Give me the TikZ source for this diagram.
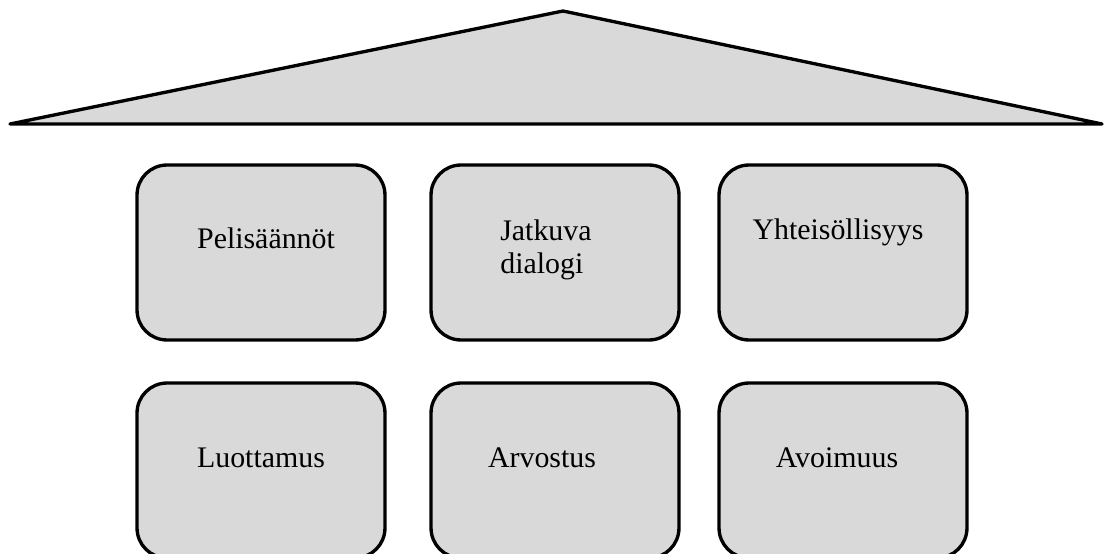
\documentclass[tikz,border=0pt]{standalone}
\usepackage{fontspec}
\setmainfont{Liberation Serif}
\usetikzlibrary{positioning}
\definecolor{roofgray}{HTML}{D9D9D9}
\tikzset{
  pillar/.style={draw=black,line width=1.9pt,fill=roofgray,rounded corners=0.6cm,minimum width=4.96cm,minimum height=3.5cm,inner sep=0pt},
  word/.style={font=\fontsize{17}{18.7}\selectfont,inner sep=0pt}
}
\begin{document}
\begin{tikzpicture}[x=0.02cm,y=-0.02cm]
\pgfmathsetmacro{\rowa}{252.5}
\pgfmathsetmacro{\rowb}{470.5}
\useasboundingbox (0,0) rectangle (1112,554);
% roof
\draw[line width=1.9pt,line join=round,fill=roofgray] (10,124) -- (563,11) -- (1102,124) -- cycle;
% upper row
\node[pillar] (pel) at (261,\rowa) {};
\node[pillar] (jat) at (555,\rowa) {};
\node[pillar] (yht) at (843,\rowa) {};
% lower row
\node[pillar] (luo) at (261,\rowb) {};
\node[pillar] (arv) at (555,\rowb) {};
\node[pillar] (avo) at (843,\rowb) {};
\node[word] (pelt) at (266,238) {Pelisäännöt};
\node[word,anchor=west,align=left] (jatt) at (500,250) {Jatkuva\\dialogi};
\node[word] (yhtt) at (838,232) {Yhteisöllisyys};
\node[word] (luot) at (261,458) {Luottamus};
\node[word] (arvt) at (542,458) {Arvostus};
\node[word] (avot) at (837,458) {Avoimuus};
\end{tikzpicture}
\end{document}
